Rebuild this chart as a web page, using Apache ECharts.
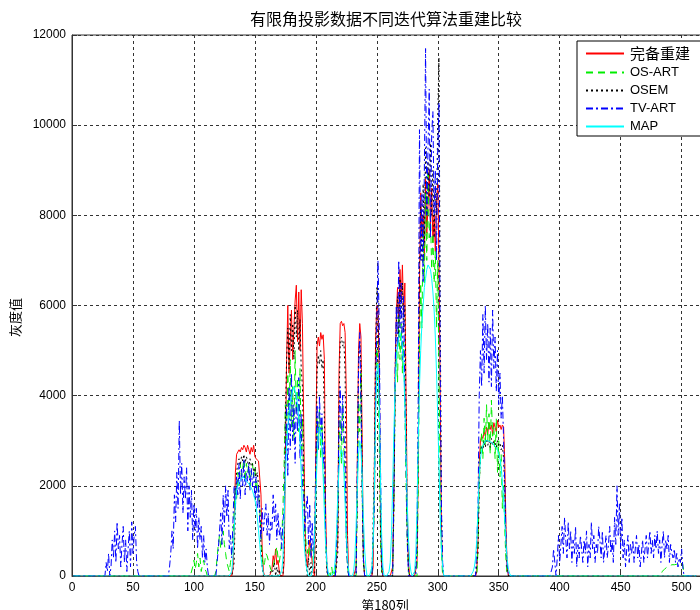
<!DOCTYPE html>
<html><head><meta charset="utf-8">
<script src="https://cdn.jsdelivr.net/npm/echarts@6/dist/echarts.min.js"></script>
<style>html,body{margin:0;padding:0;background:#fff}#c{width:700px;height:610px}</style>
</head><body><div id="c"></div>
<script>
const titleText = '有限角投影数据不同迭代算法重建比较';
const xAxisName = '第180列';
const yAxisName = '灰度值';
const seriesNames = ['完备重建', 'OS-ART', 'OSEM', 'TV-ART', 'MAP'];
const xFirst = 1, xLast = 512;
const xTicks = [0, 50, 100, 150, 200, 250, 300, 350, 400, 450, 500];
const yTicks = [0, 2000, 4000, 6000, 8000, 10000, 12000];

// Each segment: [first column, values for consecutive columns]; columns not listed read as 0.
const redSegments = [
  [132, [150,900,2300,2700,2750,2800,2750,2850,2800,2900,2850,2750,2900,2800,2700,2850,2750,2900,2650,2600,2600,2550,2550,1800,600,100]],
  [164, [150,450,300,600,250,350,100]],
  [174, [300,2500,4800,6000,4500,5200,5900,4800,5500,6100,6450,5200,6300,5000,6350,5600,3500,1200,400,200,500,800,600,300,100]],
  [200, [3000,5100,5300,5100,5400,5250,5350,4800,1500,200]],
  [218, [800,4500,5600,5650,5550,5600,5400,4000,900]],
  [233, [200,2500,5000,5600,5300,3000,400]],
  [247, [200,2500,5200,6000,5900,4500,1500,200]],
  [263, [200,1800,4500,5800,6400,5600,6800,6100,6900,5800,6500,4000,1500,300]],
  [283, [300,2500,6500,8500,7500,8000,7000,8800,7600,8200,9000,7800,8600,7400,8000,7200,8300,8700,7000,4000,1000,100]],
  [332, [100,800,2500,3000,3100,3050,3200,3100,3300,3150,3400,3250,3350,3150,3400,3300,3200,3450,3300,3350,3250,3350,3300,2500,1000,200]]
];
const greenSegments = [
  [99, [200,350,150,300,500,200,400,100,250,350,150,100]],
  [118, [100,400,700,900,600,800,1000,700,500,300,200,100,300,500,800,1500]],
  [134, [2000,1700,2300,2000,2500,2200,2400,2600,2100,2500,2300,2450,2000,2300,2500,2200,2400,1900,2100,1800,1500,900,400,200]],
  [158, [300,500,450,350,250,150,100,200,350,500,650,400,300,500,800,1500]],
  [174, [2500,3800,3000,4500,3500,4800,3300,4200,3000,5000,3600,4400,3200,4600,2800,3500,2000,1200,700]],
  [193, [500,800,400,700,600,300,800]],
  [200, [2000,3500,2800,3700,2600,3400,2400,2000,800,200]],
  [211, [100,0,200,0,100]],
  [218, [1200,3000,3500,2500,3800,2800,2000,800,200]],
  [234, [1500,4000,3200,4500,1800,300]],
  [248, [1500,4000,5200,4500,3000,800,100]],
  [264, [1500,4000,5000,4300,5800,4800,5600,4500,5200,3800,2000,700,100]],
  [284, [2000,5000,6500,5500,7800,6500,8500,7000,9000,7500,8000,6800,7600,6500,7200,5500,7000,4500,2000,500]],
  [333, [600,2000,2700,3200,2600,3500,2900,3800,3000,3600,2700,3900,3100,3300,2600,3500,2300,3000,2200,2700,1500,2000,1000,300]],
  [484, [100,120,150,180,200,180,220,200,250,230,250,280,260,300,280,320,300,250]]
];
const blackSegments = [
  [133, [300,1500,2300,2500,2600,2450,2650,2550,2700,2500,2650,2550,2400,2600,2450,2500,2300,2400,2200,2300,2000,1500,700,200]],
  [163, [100,0,0,300,0,200,0,150]],
  [174, [800,3500,4800,5500,4600,5800,5000,5600,4800,6000,5300,5900,5000,5700,4600,4200,2500,800,300,0,400,0,300]],
  [200, [2000,4500,4900,4700,5000,4600,4800,3500,800,100]],
  [218, [500,3800,5200,5300,5100,5200,4500,1500,200]],
  [234, [2000,4800,5200,4700,2000,300]],
  [248, [2500,5000,6400,6100,4500,1000,100]],
  [264, [1500,4000,5500,6200,5200,6600,5700,6500,5400,6000,3500,900,100]],
  [283, [500,3000,7000,8200,7000,8700,7400,9500,8000,9200,8400,9600,8000,9000,7500,8600,8000,10200,11500,6000,1500,200]],
  [333, [500,2000,2700,2900,2800,3000,2850,3050,2900,3000,2850,3050,2900,3000,2950,2850,3000,2900,2950,2800,2900,2600,1800,600,100]]
];
const blueSegments = [
  [28, [300,100,500,0,200,800,400,1000,300,1200,600,900,200,700,1100,300,800,100,600,1000,200,1200,500,900,1100,300,100]],
  [80, [200,500,1000,600,1800,1200,2300,1500,3450,1800,2500,1400,2200,1700,2400,1000,2000,1300,1900,800,1600,1000,1500,600,1300,800,1100,400,900,300,600,200]],
  [119, [300,600,1000,1400,700,1800,1100,2000,1300,1900,600,900,400,1200,2000,1500]],
  [135, [2200,1800,2500,1700,2400,2000,2600,1800,2300,2100,2500,1900,2400,2000,2300,1700,2200,1500,2000,1200,800]],
  [156, [1500,1000,1300,1600,900,1400,700,1200,1000,1800,1200,1600,800,1400,900,1100,600,1200]],
  [174, [1500,2500,3800,2200,4200,2800,4500,3000,3800,2500,4000,3200,4400,2600,3600,2000,1800,1000,1500]],
  [193, [1800,700,1600,400,1200,500,1000]],
  [200, [2500,3800,2800,4000,3100,3600,2500,3000,1000,300]],
  [218, [1500,3500,4200,3000,4000,3200,2500,800,200]],
  [234, [2500,4500,5400,3800,2000,400]],
  [248, [1500,4000,5600,7000,5500,2500,400]],
  [264, [2000,4500,6000,5000,7000,5500,6500,4800,6200,4000,2500,800]],
  [283, [1000,4000,9900,7000,8500,6500,9000,11700,8000,9500,10800,7500,9800,10300,8000,9000,7000,9500,10500,4500,1500,300]],
  [333, [1500,4000,5000,4200,5800,4500,6000,4800,5600,4300,5500,4200,5900,4600,5300,4100,5000,3800,4500,3500,4000,3000,2000,800,200]],
  [394, [200,600,300,0,400,900,300,700,1100,500,1300,800,400,1200,600,1000,300,800,500,1100,
         200,700,400,900,600,300,800,500,1000,200,700,400,1200,600,900,300,700,500,1100,800,
         400,1000,300,600,900,400,700,1100,500,800,300,1300,700,2000,900,1600,600,1300,400,800,
         200,600,900,300,700,500,800,300,600,900,400,700,200,500,800,300,600,900,400,700,
         1000,500,800,400,900,600,1000,500,800,300,700,1000,400,800,600,900,300,700,500,400,
         600,300,500,200,400,300,600,200]]
];
const cyanSegments = [
  [131, [100,400,1000,1600,1900,2000,2100,2100,2150,2200,2200,2150,2100,2100,2050,2000,1950,1900,1800,1700,1550,1300,1000,700,400,200,50]],
  [172, [100,400,1200,2200,2900,3300,3600,3800,4000,4100,4200,4100,4000,3800,3500,3000,2300,1500,900,500,250,100]],
  [197, [100,300,900,1800,2600,3100,3300,3200,2800,2200,1400,700,300,100]],
  [215, [100,400,1000,1800,2400,2700,2800,2700,2300,1600,900,400,100]],
  [231, [100,400,1100,2000,2700,3000,2800,2200,1300,600,200]],
  [246, [200,800,2000,3500,4500,4700,3800,2200,900,200]],
  [260, [100,300,900,2000,3200,4200,4800,5100,5300,5400,5300,5100,4600,3800,2700,1600,800,300,100]],
  [281, [100,500,1500,3000,4200,5000,5600,6000,6400,6600,6800,6900,6900,6800,6600,6300,5900,5300,4500,3500,2400,1300,600,200]],
  [328, [50,100,200,400,800,1500,2200,2600,2800,2900,2950,3000,3000,3000,3000,2980,2950,2950,2900,2900,2850,2800,2700,2600,2400,2100,1700,1200,700,350,150,50]]
];

function buildData(segs) {
  const m = new Map();
  segs.forEach(([s, vals]) => vals.forEach((v, i) => m.set(s + i, v)));
  const out = [];
  for (let x = xFirst; x <= xLast; x++) out.push([x, m.has(x) ? m.get(x) : 0]);
  return out;
}

const styles = [
  { color: '#ff0000', type: 'solid' },
  { color: '#00ee00', type: [7, 5] },
  { color: '#000000', type: [2, 3] },
  { color: '#0000ff', type: [7, 3, 2, 3] },
  { color: '#00ffff', type: 'solid' }
];
const allSegs = [redSegments, greenSegments, blackSegments, blueSegments, cyanSegments];

const FONT = "'Liberation Sans', 'Noto Sans CJK SC', sans-serif";
const CJK = "'Noto Sans CJK SC', sans-serif";
const chart = echarts.init(document.getElementById('c'), null, { renderer: 'canvas' });
chart.setOption({
  backgroundColor: '#ffffff',
  animation: false,
  title: {
    text: titleText, left: 386, top: 11, textAlign: 'center', padding: 0,
    textStyle: { fontSize: 16, fontWeight: 'normal', color: '#000', fontFamily: CJK }
  },
  grid: { left: 72, top: 35, width: 634, height: 541, outerBoundsMode: 'none', containLabel: false,
          show: true, borderColor: '#333', borderWidth: 1, backgroundColor: 'transparent' },
  graphic: [{
    type: 'rect', z: 3, silent: true,
    shape: { x: 577, y: 41, width: 200, height: 95 },
    style: { fill: '#fff', stroke: '#000', lineWidth: 1 }
  }],
  legend: {
    orient: 'vertical', left: 577, top: 41,
    padding: [5, 10, 5, 8], itemGap: 5, itemWidth: 38, itemHeight: 13,
    backgroundColor: 'transparent', borderWidth: 0, z: 5,
    itemStyle: { opacity: 0 },
    textStyle: { fontSize: 13, color: '#000', fontFamily: FONT, padding: [0, 0, 0, 1] },
    data: seriesNames.map((n, i) => i === 0 ? { name: n, textStyle: { fontSize: 15, fontFamily: CJK } } : { name: n })
  },
  xAxis: {
    type: 'value', min: 0, max: 520, interval: 50,
    name: xAxisName, nameLocation: 'middle', nameGap: 21,
    nameTextStyle: { fontSize: 13, color: '#000', fontFamily: CJK, padding: [0, 8, 0, 0] },
    axisLine: { show: true, lineStyle: { color: '#333', width: 1 } },
    axisTick: { show: true, inside: true, length: 5, lineStyle: { color: '#333' } },
    axisLabel: { fontSize: 12, color: '#000', fontFamily: FONT, margin: 6,
      formatter: v => (xTicks.indexOf(v) >= 0 ? String(v) : '') },
    splitLine: { show: true, lineStyle: { color: '#333', type: [3, 3], width: 1 } }
  },
  yAxis: {
    type: 'value', min: 0, max: 12000, interval: 2000,
    name: yAxisName, nameLocation: 'middle', nameGap: 49,
    nameTextStyle: { fontSize: 13, color: '#000', fontFamily: CJK, padding: [0, 24, 0, 0] },
    axisLine: { show: true, lineStyle: { color: '#333', width: 1 } },
    axisTick: { show: true, inside: true, length: 5, lineStyle: { color: '#333' } },
    axisLabel: { fontSize: 12, color: '#000', fontFamily: FONT, margin: 6,
      formatter: v => (yTicks.indexOf(v) >= 0 ? String(v) : '') },
    splitLine: { show: true, lineStyle: { color: '#333', type: [3, 3], width: 1 } }
  },
  series: seriesNames.map((n, i) => ({
    name: n, type: 'line', symbol: 'none', showSymbol: false,
    data: buildData(allSegs[i]),
    lineStyle: { color: styles[i].color, width: 1, type: styles[i].type },
    itemStyle: { color: styles[i].color },
    emphasis: { disabled: true }
  }))
});
</script></body></html>
